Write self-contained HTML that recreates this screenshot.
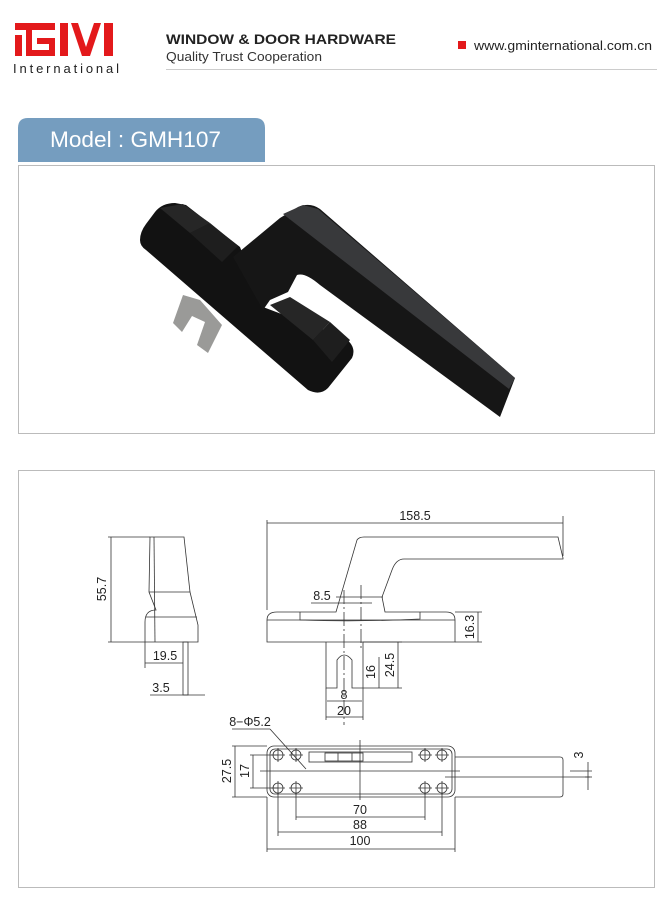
<!DOCTYPE html>
<html><head><meta charset="utf-8"><style>
body{margin:0;background:#fff;width:668px;height:900px;overflow:hidden;font-family:"Liberation Sans",sans-serif}
</style></head><body>
<svg width="668" height="900" viewBox="0 0 668 900" xmlns="http://www.w3.org/2000/svg" font-family="Liberation Sans, sans-serif">
<!-- logo -->
<g fill="#e3191b">
<rect x="15" y="23" width="40" height="7"/>
<rect x="15" y="35" width="7" height="21"/>
<rect x="26" y="23" width="6" height="33"/>
<rect x="26" y="50" width="29" height="6"/>
<rect x="37" y="38" width="18" height="6"/>
<rect x="49" y="38" width="6" height="18"/>
<rect x="60" y="23" width="8" height="33"/>
<polygon points="71,23 78,23 86,47 94,23 101,23 90,56 82,56"/>
<rect x="104" y="23" width="9" height="33"/>
</g>
<text x="13" y="73" font-size="13" textLength="106" lengthAdjust="spacing" fill="#222">International</text>
<text x="166" y="44" font-size="14" font-weight="bold" textLength="230" lengthAdjust="spacingAndGlyphs" fill="#222">WINDOW &amp; DOOR HARDWARE</text>
<text x="166" y="61" font-size="12.5" textLength="156" lengthAdjust="spacingAndGlyphs" fill="#333">Quality  Trust  Cooperation</text>
<rect x="166" y="69" width="491" height="1" fill="#ccc"/>
<rect x="458" y="41" width="8" height="8" fill="#e3191b"/>
<text x="474" y="50" font-size="13" textLength="178" lengthAdjust="spacingAndGlyphs" fill="#222">www.gminternational.com.cn</text>
<!-- model tab -->
<path d="M18,162 V128 Q18,118 28,118 H255 Q265,118 265,128 V162 Z" fill="#759dbf"/>
<text x="50" y="147" font-size="22" textLength="171" lengthAdjust="spacingAndGlyphs" fill="#fff">Model : GMH107</text>
<rect x="18.5" y="165.5" width="636" height="268" fill="none" stroke="#bbb"/>
<!-- photo -->
<polygon points="183,295 173,323 182,332 192,316 205,322 197,345 208,353 222,325 200,300" fill="#9a9a98"/>
<path d="M140,240 Q140,232 146,224 L155,212 Q162,203 175,203 L186,205 L240,247 L263,307 L345,338 Q357,347 352,358 L328,388 Q320,396 308,390 L146,250 Q140,246 140,240 Z" fill="#121212"/>
<path d="M233,257 L280,218 L298,207 Q310,202 320,209 L515,378 L500,417 L320,285 Q305,272 297,275 L288,292 L270,300 L263,310 Z" fill="#161616"/>
<polygon points="283,214 303,205 318,209 515,378 509,389" fill="#38393b"/>
<polygon points="160,208 183,204 210,223 190,233" fill="#262626"/>
<polygon points="190,233 210,223 238,246 222,262" fill="#1e1e1e"/>
<polygon points="270,305 290,297 330,322 313,340" fill="#262626"/>
<polygon points="313,340 330,322 350,340 332,362" fill="#1e1e1e"/>
<!-- drawing frame -->
<rect x="18.5" y="470.5" width="636" height="417" fill="none" stroke="#bbb"/>
<g fill="none" stroke="#333" stroke-width="0.8">
<!-- side view -->
<path d="M150,537 H184 L190,592 L198,625 V642 H145 V622 Q145,610 156,610 L149,592 Z"/>
<line x1="149" y1="592" x2="190" y2="592"/><line x1="146" y1="617" x2="197" y2="617"/>
<line x1="154" y1="537" x2="155" y2="642"/>
<rect x="183" y="642" width="5" height="53"/>
<line x1="108" y1="537" x2="150" y2="537"/><line x1="108" y1="642" x2="145" y2="642"/>
<line x1="111" y1="537" x2="111" y2="642"/>
<line x1="145" y1="642" x2="145" y2="668"/><line x1="145" y1="663" x2="183" y2="663"/>
<line x1="150" y1="695" x2="205" y2="695"/>
<!-- front view -->
<path d="M267,642 V620 Q267,612 277,612 H336 L357,540 Q359,537 364,537 H558 L563,558 V559 H404 Q396,559 392,570 L382,597 L385,612 H446 Q455,612 455,620 V642 Z"/>
<line x1="336" y1="597" x2="383" y2="597"/>
<path d="M300,612 V620 Q360,622 420,619 V612"/>
<line x1="267" y1="620" x2="455" y2="620"/>
<path d="M326,642 V688 H337 V660 Q344,650 352,660 V688 H363 V642"/>
<line x1="267" y1="520" x2="267" y2="610"/><line x1="563" y1="516" x2="563" y2="556"/>
<line x1="267" y1="523" x2="563" y2="523"/>
<line x1="311" y1="603" x2="372" y2="603"/>
<line x1="344" y1="590" x2="344" y2="725" stroke-dasharray="14,3,2,3"/>
<line x1="361" y1="585" x2="361" y2="650" stroke-dasharray="14,3,2,3"/>
<line x1="455" y1="612" x2="482" y2="612"/><line x1="455" y1="642" x2="482" y2="642"/><line x1="478" y1="612" x2="478" y2="642"/>
<line x1="363" y1="642" x2="402" y2="642"/><line x1="363" y1="688" x2="402" y2="688"/>
<line x1="398" y1="642" x2="398" y2="688"/><line x1="379" y1="657" x2="379" y2="688"/>
<line x1="326" y1="688" x2="326" y2="720"/><line x1="363" y1="688" x2="363" y2="720"/>
<line x1="327" y1="701" x2="362" y2="701"/><line x1="326" y1="717" x2="363" y2="717"/>
<!-- bottom view -->
<rect x="267" y="746" width="188" height="51" rx="7"/>
<rect x="270" y="749" width="182" height="45" rx="5"/>
<path d="M455,757 H560 Q563,757 563,760 V794 Q563,797 560,797 H455"/>
<rect x="309" y="752" width="103" height="10"/><rect x="325" y="753" width="38" height="8"/>
<line x1="338" y1="753" x2="338" y2="761"/><line x1="352" y1="753" x2="352" y2="761"/>
<line x1="260" y1="771" x2="460" y2="771"/><line x1="445" y1="777" x2="590" y2="777"/>
<line x1="360" y1="740" x2="360" y2="800"/>
<g>
<circle cx="278" cy="755" r="5"/><circle cx="296" cy="755" r="5"/><circle cx="425" cy="755" r="5"/><circle cx="442" cy="755" r="5"/>
<circle cx="278" cy="788" r="5"/><circle cx="296" cy="788" r="5"/><circle cx="425" cy="788" r="5"/><circle cx="442" cy="788" r="5"/>
<path d="M271,755h14M278,748v14M289,755h14M296,748v14M418,755h14M425,748v14M435,755h14M442,748v14M271,788h14M278,781v14M289,788h14M296,781v14M418,788h14M425,781v14M435,788h14M442,781v14"/>
</g>
<line x1="232" y1="729" x2="270" y2="729"/><line x1="270" y1="729" x2="306" y2="769"/>
<line x1="232" y1="746" x2="267" y2="746"/><line x1="232" y1="797" x2="267" y2="797"/><line x1="235" y1="746" x2="235" y2="797"/>
<line x1="250" y1="755" x2="278" y2="755"/><line x1="250" y1="788" x2="278" y2="788"/><line x1="253" y1="755" x2="253" y2="788"/>
<line x1="278" y1="793" x2="278" y2="836"/><line x1="442" y1="793" x2="442" y2="836"/>
<line x1="296" y1="793" x2="296" y2="820"/><line x1="425" y1="793" x2="425" y2="820"/>
<line x1="267" y1="797" x2="267" y2="852"/><line x1="455" y1="797" x2="455" y2="852"/>
<line x1="296" y1="817" x2="425" y2="817"/><line x1="278" y1="832" x2="442" y2="832"/><line x1="267" y1="849" x2="455" y2="849"/>
<line x1="570" y1="771" x2="592" y2="771"/><line x1="585" y1="777" x2="592" y2="777"/><line x1="588" y1="762" x2="588" y2="790"/>
</g>
<g fill="#222" font-size="12.5" text-anchor="middle">
<text x="415" y="520">158.5</text>
<text x="322" y="600">8.5</text>
<text x="165" y="660">19.5</text>
<text x="161" y="692">3.5</text>
<text x="344" y="699">8</text>
<text x="344" y="715">20</text>
<text x="250" y="726">8−Φ5.2</text>
<text x="360" y="814">70</text>
<text x="360" y="829">88</text>
<text x="360" y="845">100</text>
<text transform="translate(106,589) rotate(-90)">55.7</text>
<text transform="translate(474,627) rotate(-90)">16.3</text>
<text transform="translate(375,672) rotate(-90)">16</text>
<text transform="translate(394,665) rotate(-90)">24.5</text>
<text transform="translate(231,771) rotate(-90)">27.5</text>
<text transform="translate(249,771) rotate(-90)">17</text>
<text transform="translate(583,755) rotate(-90)">3</text>
</g>
</svg>
</body></html>
